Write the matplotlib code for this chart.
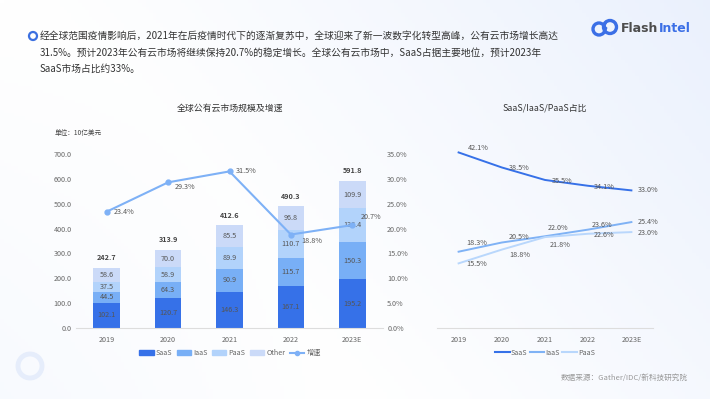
import matplotlib
matplotlib.use('Agg')
import matplotlib.pyplot as plt
from matplotlib.patches import Ellipse, Patch
from matplotlib.lines import Line2D
import numpy as np

plt.rcParams['font.family'] = ['Noto Sans CJK SC', 'DejaVu Sans']

# data
years = ['2019', '2020', '2021', '2022', '2023E']
saas = [102.1, 120.7, 146.3, 167.1, 195.2]
iaas = [44.5, 64.3, 90.9, 115.7, 150.3]
paas = [37.5, 58.9, 89.9, 110.7, 136.4]
other = [58.6, 70.0, 85.5, 96.8, 109.9]
totals = [242.7, 313.9, 412.6, 490.3, 591.8]
growth = [23.4, 29.3, 31.5, 18.8, 20.7]

saas_share = [42.1, 38.5, 35.5, 34.1, 33.0]
iaas_share = [18.3, 20.5, 22.0, 23.6, 25.4]
paas_share = [15.5, 18.8, 21.8, 22.6, 23.0]

header = [
    '经全球范围疫情影响后，2021年在后疫情时代下的逐渐复苏中，全球迎来了新一波数字化转型高峰，公有云市场增长高达',
    '31.5%。预计2023年公有云市场将继续保持20.7%的稳定增长。全球公有云市场中，SaaS占据主要地位，预计2023年',
    'SaaS市场占比约33%。',
]

c_saas = '#3671E8'
c_iaas = '#78AFF6'
c_paas = '#B2D3FB'
c_other = '#CBDAF8'
c_line = '#7EB1F6'
c_tick = '#666666'
c_lab = '#555555'

W, H = 710, 399
fig = plt.figure(figsize=(W / 100, H / 100), dpi=100)

# background gradient
bg = fig.add_axes([0, 0, 1, 1], zorder=-10)
gx, gy = np.meshgrid(np.linspace(0, 1, 200), np.linspace(0, 1, 120))
t = np.clip(0.75 * gx + 0.35 * (1 - gy) - 0.35, 0, 1) ** 1.2
t = np.maximum(t, 0.25 * np.clip(1 - gx * 2, 0, 1) * gy)
white = np.array([1.0, 1.0, 1.0])
blue = np.array([226, 235, 252]) / 255
img = white[None, None, :] * (1 - t[..., None]) + blue[None, None, :] * t[..., None]
bg.imshow(img, aspect='auto', extent=[0, 1, 0, 1], origin='upper')
bg.axis('off')

def fx(px):
    return px / W

def fy(py):
    return 1 - py / H

# header
fig.add_artist(Ellipse((fx(33), fy(36)), 8 / W, 8 / H, fill=False, lw=1.6,
                       ec='#3B6FE0', transform=fig.transFigure))
for i, line in enumerate(header):
    fig.text(fx(40), fy(36 + i * 16.5), line, fontsize=7, color='#333333', va='center')

# logo (axes 30x24 px, 1 unit = 1 px)
lg = fig.add_axes([fx(590), fy(40), fx(30), 24 / H])
lg.set_xlim(0, 30)
lg.set_ylim(0, 24)
lg.add_patch(Ellipse((9, 11), 12, 12, fill=False, lw=2.4, ec='#3B6FE6'))
lg.add_patch(Ellipse((20, 13), 13, 13, fill=False, lw=2.4, ec='#3B6FE6'))
lg.plot([16, 13.5, 16.5, 14], [17, 12, 12, 7], color='#3B6FE6', lw=1.3)
lg.axis('off')
t1 = fig.text(fx(621), fy(28), 'Flash', fontsize=9, fontweight='bold', color='#4D4D4D',
              va='center', family=['DejaVu Sans'])
fig.canvas.draw()
bb = t1.get_window_extent(fig.canvas.get_renderer())
fig.text(bb.x1 / W, fy(28), 'Intel', fontsize=9, fontweight='bold', color='#3B6FE6',
         va='center', family=['DejaVu Sans'])

# decorative ring
fig.add_artist(Ellipse((fx(30), fy(366)), 24 / W, 24 / H, fill=False, lw=3.5,
                       ec='#E6EDFB', transform=fig.transFigure))

# left chart
ax1 = fig.add_axes([fx(76), fy(328), 307 / W, 174 / H])
x = np.arange(len(years))
bw = 0.43
bottom = np.zeros(len(years))
for vals, col in [(saas, c_saas), (iaas, c_iaas), (paas, c_paas), (other, c_other)]:
    ax1.bar(x, vals, bw, bottom=bottom, color=col, zorder=2)
    for i, v in enumerate(vals):
        ax1.text(x[i], bottom[i] + v / 2, f'{v:.1f}', ha='center', va='center',
                 fontsize=5.2, color=c_lab, zorder=5)
    bottom += np.array(vals)
for i, tv in enumerate(totals):
    ax1.annotate(f'{tv:.1f}', (x[i], tv), xytext=(0, 10), textcoords='offset pixels',
                 ha='center', va='center', fontsize=5.2, fontweight='bold', color='#444444')
ax1.set_xlim(-0.5, 4.5)
ax1.set_ylim(0, 700)
ax1.set_yticks(np.arange(0, 701, 100))
ax1.set_yticklabels([f'{v:.1f}' for v in np.arange(0, 701, 100)])
ax1.set_xticks(x)
ax1.set_xticklabels(years)
for s in ['top', 'left', 'right']:
    ax1.spines[s].set_visible(False)
ax1.spines['bottom'].set_color('#DDDDDD')
ax1.tick_params(length=0, labelsize=5.2, labelcolor=c_tick)
ax1.tick_params(axis='x', pad=6)
ax1.tick_params(axis='y', pad=3)
ax1.patch.set_alpha(0)

ax2 = ax1.twinx()
ax2.plot(x, growth, color=c_line, lw=1.5, marker='o', ms=3.5, zorder=3)
ax2.set_ylim(0, 35)
ax2.set_yticks(np.arange(0, 36, 5))
ax2.set_yticklabels([f'{v:.1f}%' for v in np.arange(0, 36, 5)])
for s in ['top', 'left', 'right', 'bottom']:
    ax2.spines[s].set_visible(False)
ax2.tick_params(length=0, labelsize=5.2, labelcolor=c_tick, pad=3)
g_off = [(7, 0), (7, -5), (6, 0), (10, -6), (8, 8)]
for i, g in enumerate(growth):
    ax2.annotate(f'{g:.1f}%', (x[i], g), xytext=g_off[i], textcoords='offset pixels',
                 ha='left', va='center', fontsize=5.2, color=c_lab)

fig.text(fx(230), fy(108), '全球公有云市场规模及增速', fontsize=6.4, color='#333333',
         ha='center', va='center')
fig.text(fx(55), fy(133), '单位：10亿美元', fontsize=4.8, color='#444444', va='center')

h1 = [Patch(color=c_saas), Patch(color=c_iaas), Patch(color=c_paas), Patch(color=c_other),
      Line2D([], [], color=c_line, lw=1.5, marker='o', ms=3)]
fig.legend(h1, ['SaaS', 'IaaS', 'PaaS', 'Other', '增速'], loc='center',
           bbox_to_anchor=(fx(230), fy(353)), ncol=5, frameon=False, fontsize=5.2,
           handlelength=2.0, handleheight=0.6, handletextpad=0.3, columnspacing=0.6,
           labelcolor=c_tick)

# right chart
ax3 = fig.add_axes([fx(437), fy(328), 216 / W, (328 - 119.5) / H])
ax3.plot(x, saas_share, color=c_saas, lw=1.4)
ax3.plot(x, iaas_share, color='#7FB2F5', lw=1.4)
ax3.plot(x, paas_share, color='#B9D7FC', lw=1.4)
offs = {
    'saas': [(9, 4), (7, -1), (7, -1), (6, -1), (6, 0)],
    'iaas': [(8, 9), (7, 6), (3, 8), (4, 5), (6, 0)],
    'paas': [(8, -1), (8, -5), (5, -8), (6, -1), (6, -1)],
}
for key, vals in [('saas', saas_share), ('iaas', iaas_share), ('paas', paas_share)]:
    for i, v in enumerate(vals):
        ax3.annotate(f'{v:.1f}%', (x[i], v), xytext=offs[key][i], textcoords='offset pixels',
                     ha='left', va='center', fontsize=5.2, color=c_lab)
ax3.set_xlim(-0.5, 4.5)
ax3.set_ylim(0, 50)
ax3.set_yticks([])
ax3.set_xticks(x)
ax3.set_xticklabels(years)
for s in ['top', 'left', 'right']:
    ax3.spines[s].set_visible(False)
ax3.spines['bottom'].set_color('#DDDDDD')
ax3.tick_params(length=0, labelsize=5.2, labelcolor=c_tick, pad=6)
ax3.patch.set_alpha(0)

fig.text(fx(545), fy(108), 'SaaS/IaaS/PaaS占比', fontsize=6.4, color='#333333',
         ha='center', va='center')
h2 = [Line2D([], [], color=c_saas, lw=1.5), Line2D([], [], color='#7FB2F5', lw=1.5),
      Line2D([], [], color='#B9D7FC', lw=1.5)]
fig.legend(h2, ['SaaS', 'IaaS', 'PaaS'], loc='center', bbox_to_anchor=(fx(545), fy(353)),
           ncol=3, frameon=False, fontsize=5.2, handlelength=2.0, handletextpad=0.2,
           columnspacing=0.3, labelcolor=c_tick)

fig.text(fx(688), fy(378), '数据来源：Gather/IDC/新科技研究院', fontsize=5.5, color='#999999',
         ha='right', va='center')

fig.savefig('out.png', dpi=100)
